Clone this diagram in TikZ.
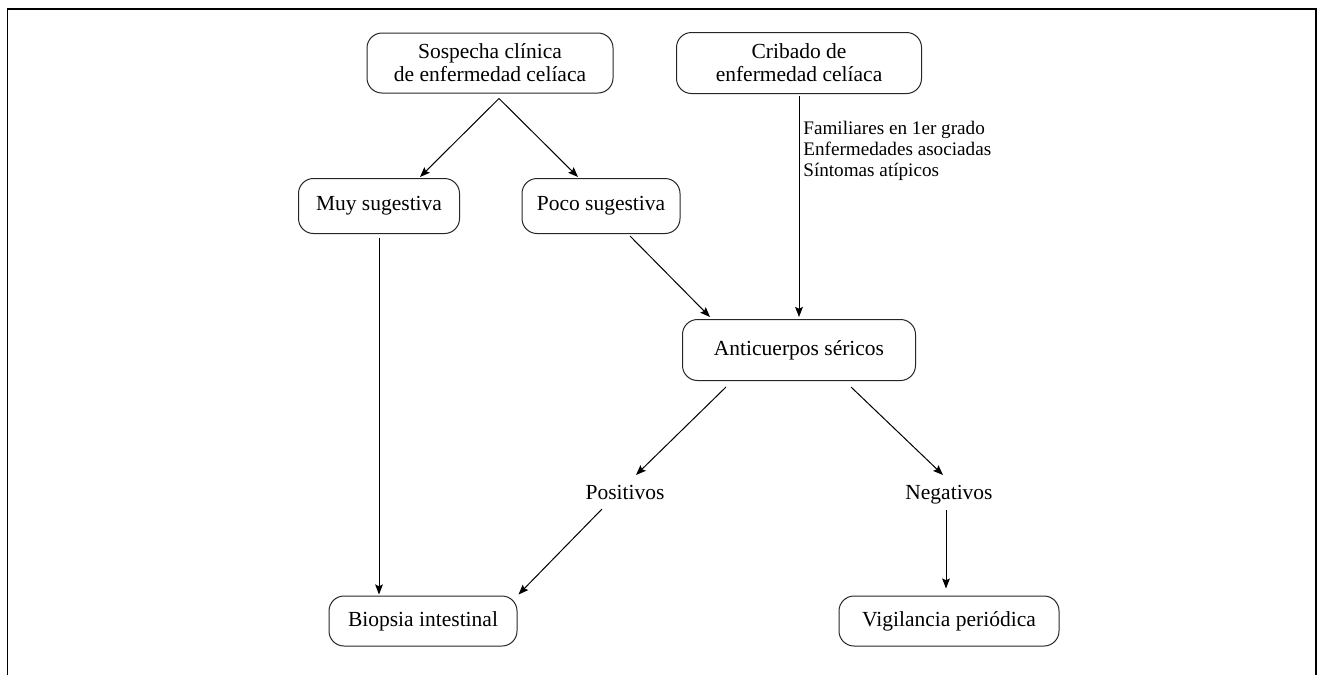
\documentclass[tikz,border=0pt]{standalone}
\usepackage{fontspec}
\setmainfont{Liberation Serif}
\usepackage{tikz}
\usetikzlibrary{arrows.meta, positioning}

\begin{document}
\begin{tikzpicture}[
    on grid,
    box/.style={draw=black!85, line width=0.6pt, rounded corners=9pt, minimum height=33pt,
                align=center, font=\fontsize{12.9pt}{13.8pt}\selectfont},
    txt/.style={inner sep=0pt, text height=9pt, text depth=3pt, font=\fontsize{12.9pt}{13.8pt}\selectfont},
    note/.style={inner sep=0pt, align=left, font=\fontsize{11.5pt}{12.6pt}\selectfont},
    arr/.style={-{Stealth[length=6pt, width=4.6pt, inset=1pt]}, line width=0.6pt}
]
    \useasboundingbox (0,0) rectangle (793.8pt,-405pt);
    \draw[line width=0.9pt] (4.5pt,-405pt) -- (4.5pt,-5.4pt) -- (789.6pt,-5.4pt) -- (789.6pt,-405pt);

    \node[box, minimum width=147.6pt, minimum height=36pt] (sosp) at (294pt,-37.8pt) {Sospecha clínica\\de enfermedad celíaca};
    \node[box, minimum width=147pt, minimum height=36.6pt, right=185.4pt of sosp] (crib) {Cribado de\\enfermedad celíaca};

    \node[box, minimum width=96.6pt, below left=85.8pt and 66.6pt of sosp] (muy) {Muy sugestiva};
    \node[box, minimum width=94.8pt, below right=85.8pt and 66.6pt of sosp] (poco) {Poco sugestiva};

    \node[box, minimum width=139.8pt, minimum height=36.6pt, below=172.2pt of crib] (anti) {Anticuerpos séricos};
    \node[note, anchor=west] (grupos) at ([xshift=2.4pt, yshift=-34.2pt]crib.south) {Familiares en 1er grado\\Enfermedades asociadas\\Síntomas atípicos};

    \node[txt, below left=86.4pt and 104.4pt of anti] (pos) {Positivos};
    \node[txt, below right=86.4pt and 90pt of anti] (neg) {Negativos};

    \node[box, minimum width=112.8pt, minimum height=30pt, below right=249pt and 26.4pt of muy] (bio) {Biopsia intestinal};
    \node[box, minimum width=132pt, minimum height=30pt, below=76.2pt of neg] (vig) {Vigilancia periódica};

    \draw[arr] ([xshift=5.4pt, yshift=-3pt]sosp.south) -- ([xshift=24.6pt, yshift=0.6pt]muy.north);
    \draw[arr] ([xshift=5.4pt, yshift=-3pt]sosp.south) -- ([xshift=-13.8pt, yshift=0.6pt]poco.north);
    \draw[arr] ([xshift=17.4pt, yshift=-1.2pt]poco.south) -- ([xshift=-53.4pt, yshift=1.2pt]anti.north);
    \draw[arr] ([yshift=-1pt]crib.south) -- ([yshift=1.2pt]crib.south |- anti.north);
    \draw[arr] ([yshift=-2.4pt]muy.south) -- ([yshift=0.6pt]muy.south |- bio.north);
    \draw[arr] ([xshift=-43.8pt, yshift=-3.6pt]anti.south) -- ([xshift=6.6pt, yshift=11.4pt]pos.center);
    \draw[arr] ([xshift=31.2pt, yshift=-3.6pt]anti.south) -- ([xshift=-3.6pt, yshift=11.4pt]neg.center);
    \draw[arr] ([xshift=-13.8pt, yshift=-9pt]pos.center) -- ([xshift=0.6pt, yshift=0.6pt]bio.north east);
    \draw[arr] ([xshift=-1.8pt, yshift=-9.6pt]neg.center) -- ([xshift=-1.8pt, yshift=4.2pt]vig.north);
\end{tikzpicture}
\end{document}
